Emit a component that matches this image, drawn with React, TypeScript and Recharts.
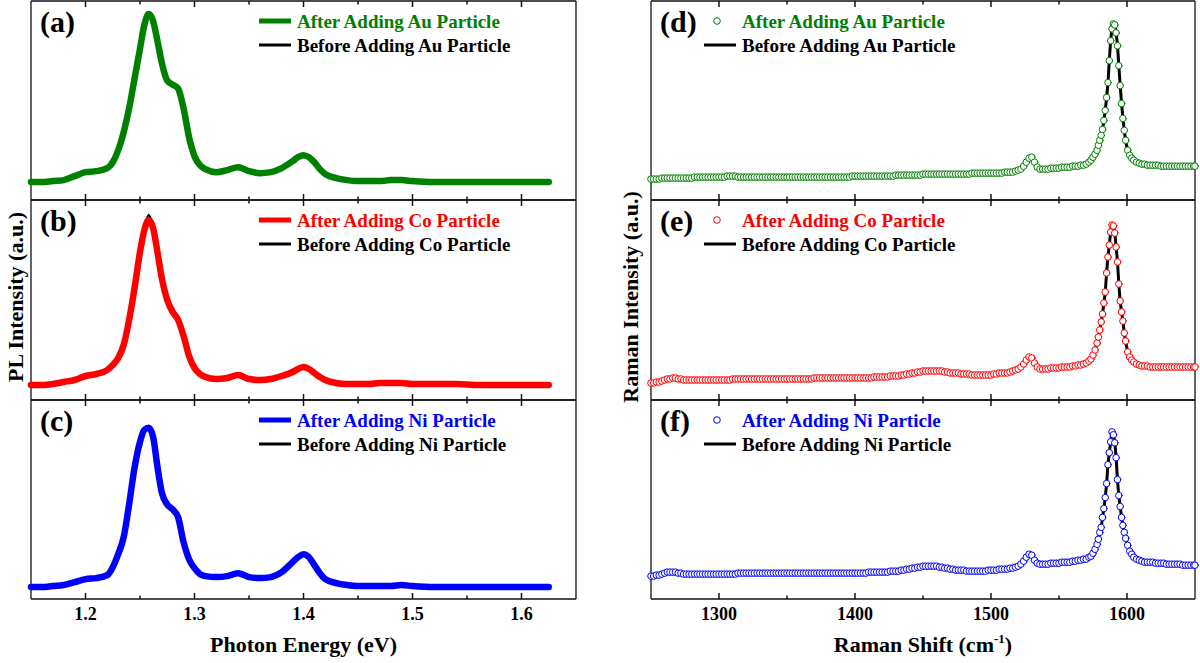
import React from 'react';
import { LineChart, Line, XAxis, YAxis, Legend, ReferenceLine } from 'recharts';

const FONT = '"Liberation Serif", "Times New Roman", Times, serif';
const GREEN = '#008000';
const RED = '#ff0000';
const BLUE = '#0000ff';

// ---- PL spectra, photon energy (eV) ----
const plEnergy = [
  1.15, 1.16, 1.17, 1.18, 1.19, 1.2, 1.21, 1.22, 1.225, 1.23,
  1.235, 1.24, 1.245, 1.25, 1.254, 1.258, 1.262, 1.266, 1.27, 1.275,
  1.28, 1.285, 1.29, 1.295, 1.3, 1.305, 1.31, 1.32, 1.33, 1.34,
  1.35, 1.36, 1.37, 1.38, 1.39, 1.395, 1.4, 1.405, 1.41, 1.415,
  1.42, 1.43, 1.44, 1.45, 1.46, 1.47, 1.48, 1.49, 1.5, 1.52,
  1.54, 1.56, 1.58, 1.6, 1.625,
];

const plAfterAu = [
  18, 18, 19, 20, 24, 28, 29, 32, 38, 50,
  68, 92, 122, 152, 176, 187, 180, 160, 138, 120,
  116, 112, 92, 63, 44, 35, 31, 28, 30, 33,
  29, 27, 28, 32, 39, 43, 45, 43, 38, 31,
  26, 22, 20, 19, 19, 19, 20, 20, 19, 18,
  18, 18, 18, 18, 18,
];
// black trace sits right under the green one
const plBeforeAu = plAfterAu;

const plAfterCo = [
  15, 15, 16, 18, 20, 24, 26, 30, 35, 42,
  55, 80, 112, 148, 170, 180, 172, 148, 122, 100,
  88, 80, 64, 44, 32, 26, 23, 21, 22, 25,
  21, 20, 21, 24, 28, 31, 33, 31, 27, 23,
  20, 17, 16, 16, 16, 17, 17, 17, 16, 16,
  16, 15, 15, 15, 15,
];
const plBeforeCo = [
  15, 15, 16, 18, 20, 24, 26, 30, 35, 42,
  55, 80, 112, 148, 170, 185, 172, 148, 122, 100,
  88, 80, 64, 44, 32, 26, 23, 21, 22, 25,
  21, 20, 21, 24, 28, 31, 33, 31, 27, 23,
  20, 17, 16, 16, 16, 17, 17, 17, 16, 16,
  16, 15, 15, 15, 15,
];

const plAfterNi = [
  12, 12, 13, 14, 17, 20, 21, 24, 32, 45,
  62, 95, 132, 158, 170, 172, 163, 133, 107, 95,
  90, 82, 57, 40, 31, 25, 23, 22, 23, 26,
  22, 21, 22, 27, 37, 42, 45, 42, 34, 26,
  20, 16, 14, 13, 13, 13, 13, 14, 13, 12,
  12, 12, 12, 12, 12,
];
const plBeforeNi = plAfterNi;

// ---- Raman spectra, shift (cm-1) ----
const ramanShift = [
  1250, 1252, 1254, 1256, 1258, 1260, 1262, 1264, 1266, 1268,
  1270, 1272, 1274, 1276, 1278, 1280, 1282, 1284, 1286, 1288,
  1290, 1292, 1294, 1296, 1298, 1300, 1302, 1304, 1306, 1308,
  1310, 1312, 1314, 1316, 1318, 1320, 1322, 1324, 1326, 1328,
  1330, 1332, 1334, 1336, 1338, 1340, 1342, 1344, 1346, 1348,
  1350, 1352, 1354, 1356, 1358, 1360, 1362, 1364, 1366, 1368,
  1370, 1372, 1374, 1376, 1378, 1380, 1382, 1384, 1386, 1388,
  1390, 1392, 1394, 1396, 1398, 1400, 1402, 1404, 1406, 1408,
  1410, 1412, 1414, 1416, 1418, 1420, 1422, 1424, 1426, 1428,
  1430, 1432, 1434, 1436, 1438, 1440, 1442, 1444, 1446, 1448,
  1450, 1452, 1454, 1456, 1458, 1460, 1462, 1464, 1466, 1468,
  1470, 1472, 1474, 1476, 1478, 1480, 1482, 1484, 1486, 1488,
  1490, 1492, 1494, 1496, 1498, 1500, 1502, 1504, 1506, 1508,
  1510, 1512, 1514, 1516, 1518,
  1520, 1522, 1524, 1526, 1528, 1530, 1532, 1534, 1536, 1538, 1540,
  1542, 1544, 1546, 1548, 1550, 1552, 1554, 1556, 1558, 1560, 1562, 1564, 1566, 1568, 1570,
  1572, 1573.5, 1575, 1576.5,
  1578, 1579, 1580, 1581, 1582, 1583, 1584, 1585, 1586, 1587, 1588,
  1589, 1590, 1591, 1592, 1593, 1594, 1595, 1596, 1597, 1598, 1599,
  1600.5, 1602, 1603.5, 1605, 1607, 1609, 1611,
  1613, 1615, 1617, 1619, 1621, 1623, 1625, 1627, 1629, 1631,
  1633, 1635, 1637, 1639, 1641, 1643, 1645, 1647, 1649, 1650,
];

const ramanAfterAu = [
  21, 21, 21, 21, 22, 22, 22, 22, 22, 22,
  22, 22, 22, 22, 22, 22, 23, 23, 23, 23,
  23, 23, 23, 23, 23, 23, 23, 23, 24, 24,
  24, 24, 23, 23, 23, 23, 23, 23, 23, 23,
  23, 23, 23, 23, 23, 23, 23, 23, 23, 23,
  23, 23, 23, 23, 23, 23, 23, 23, 23, 23,
  23, 23, 23, 23, 23, 23, 23, 23, 23, 23,
  23, 23, 23, 23, 24, 24, 24, 24, 24, 24,
  24, 24, 24, 24, 24, 24, 24, 24, 24, 24,
  25, 25, 25, 25, 25, 25, 25, 25, 25, 25,
  26, 26, 26, 26, 26, 26, 26, 26, 26, 26,
  26, 26, 26, 26, 26, 26, 26, 26, 27, 27,
  27, 27, 27, 27, 27, 27, 27, 27, 27, 27,
  28, 28, 28, 28, 29,
  30, 31, 34, 38, 42, 43, 38, 33, 31, 31, 31,
  31, 32, 32, 32, 32, 33, 33, 33, 33, 34, 34, 34, 35, 35, 36,
  38, 40, 43, 46,
  50, 55, 60, 65, 71, 80, 90, 103, 118, 140, 160,
  172, 177, 176, 168, 155, 135, 115, 97, 82, 70, 60,
  50, 45, 42, 40, 38, 37, 36,
  36, 35, 35, 35, 35, 35, 34, 34, 34, 34,
  34, 34, 34, 34, 34, 34, 34, 34, 34, 34,
];
const ramanBeforeAu = ramanAfterAu;

const ramanAfterCo = [
  17, 17, 18, 18, 19, 20, 21, 21, 22, 22,
  21, 21, 20, 20, 20, 20, 20, 20, 20, 20,
  20, 20, 20, 20, 20, 20, 20, 20, 20, 20,
  21, 21, 21, 21, 21, 21, 21, 21, 21, 21,
  21, 21, 21, 21, 21, 21, 21, 21, 21, 21,
  21, 21, 21, 21, 21, 21, 21, 21, 21, 21,
  22, 22, 22, 22, 22, 22, 22, 22, 22, 22,
  22, 22, 22, 22, 22, 22, 22, 22, 22, 22,
  22, 22, 23, 23, 23, 23, 23, 23, 24, 24,
  24, 24, 25, 25, 26, 26, 27, 27, 28, 28,
  29, 29, 29, 29, 29, 29, 29, 29, 28, 28,
  27, 27, 27, 27, 26, 26, 26, 26, 25, 25,
  25, 25, 25, 25, 25, 25, 26, 26, 27, 27,
  27, 27, 28, 29, 30,
  31, 33, 36, 40, 43, 42, 37, 33, 31, 31, 31,
  31, 32, 32, 32, 32, 33, 33, 33, 33, 34, 34, 35, 35, 36, 37,
  39, 41, 45, 50,
  57, 63, 70, 78, 86, 97, 108, 127, 143, 155, 168,
  175, 174, 167, 153, 138, 116, 99, 88, 79, 67, 59,
  48, 43, 40, 38, 36, 35, 34,
  34, 34, 33, 33, 33, 33, 33, 33, 33, 33,
  33, 33, 33, 33, 33, 33, 33, 33, 33, 33,
];
const ramanBeforeCo = ramanAfterCo;

const ramanAfterNi = [
  23, 23, 24, 24, 25, 26, 27, 27, 27, 27,
  26, 26, 25, 25, 25, 25, 25, 25, 25, 25,
  25, 25, 25, 25, 25, 25, 25, 25, 25, 25,
  25, 25, 26, 26, 26, 26, 26, 26, 26, 26,
  26, 26, 26, 26, 26, 26, 26, 26, 26, 26,
  26, 26, 26, 26, 26, 26, 26, 26, 26, 26,
  26, 26, 26, 26, 26, 26, 26, 26, 26, 26,
  26, 26, 26, 26, 26, 26, 26, 26, 26, 26,
  27, 27, 27, 27, 27, 27, 27, 27, 28, 28,
  28, 28, 29, 29, 30, 30, 31, 31, 32, 32,
  33, 33, 33, 33, 33, 33, 32, 32, 31, 31,
  30, 30, 29, 29, 29, 29, 28, 28, 28, 28,
  28, 28, 28, 28, 29, 29, 29, 29, 30, 30,
  30, 30, 31, 31, 32,
  33, 35, 38, 42, 45, 44, 39, 36, 35, 35, 35,
  35, 36, 36, 36, 36, 37, 37, 37, 37, 38, 38, 39, 39, 40, 40,
  42, 43, 46, 50,
  55, 60, 67, 72, 82, 91, 102, 116, 135, 147, 158,
  168, 165, 157, 142, 120, 104, 93, 82, 74, 67, 61,
  54, 48, 45, 42, 40, 39, 38,
  37, 37, 37, 37, 36, 36, 36, 36, 35, 35,
  35, 35, 35, 35, 34, 34, 34, 34, 34, 34,
];
const ramanBeforeNi = ramanAfterNi;

// tick labels
const plMajorTicks = [1.2, 1.3, 1.4, 1.5, 1.6];
const plMinorTicks = [1.25, 1.35, 1.45, 1.55];
const ramanMajorTicks = [1300, 1400, 1500, 1600];
const ramanMinorTicks = [1350, 1450, 1550];

const Y_MAX = 200;

type Row = { x: number; after: number; before: number };

const toRows = (xs: number[], after: number[], before: number[]): Row[] =>
  xs.map((x, i) => ({ x, after: after[i], before: before[i] }));

const TickLabel = (props: any) => {
  const { x, y, payload, digits } = props;
  return (
    <text x={x} y={y + 21} textAnchor="middle" fontFamily={FONT} fontWeight="bold" fontSize={18} fill="#000">
      {payload.value.toFixed(digits)}
    </text>
  );
};

// horizontal frame edge (drawn by a ReferenceLine) with its inward tick marks
const FrameEdge = (props: any) => {
  const { x1, y1, x2, y2, domain, majors, minors, dir } = props;
  const span = x2 - x1;
  const at = (v: number) => x1 + ((v - domain[0]) / (domain[1] - domain[0])) * span;
  return (
    <g>
      <line x1={x1} y1={y1} x2={x2} y2={y2} stroke="#111" strokeWidth={1.3} />
      {majors.map((v: number) => (
        <line key={`M${v}`} x1={at(v)} x2={at(v)} y1={y1} y2={y1 + dir * 6} stroke="#111" strokeWidth={1.5} />
      ))}
      {minors.map((v: number) => (
        <line key={`m${v}`} x1={at(v)} x2={at(v)} y1={y1} y2={y1 + dir * 3.5} stroke="#111" strokeWidth={1.5} />
      ))}
    </g>
  );
};

const PanelTag = (props: any) => {
  const { viewBox, tag } = props;
  return (
    <text
      x={viewBox.x + 9}
      y={viewBox.y + viewBox.height + 31}
      fontFamily={FONT}
      fontWeight="bold"
      fontSize={30}
      fill="#000"
    >
      {tag}
    </text>
  );
};

const XTitle = (props: any) => {
  const { viewBox, children } = props;
  return (
    <text
      x={viewBox.x + viewBox.width / 2}
      y={viewBox.y + 53}
      textAnchor="middle"
      fontFamily={FONT}
      fontWeight="bold"
      fontSize={22}
      fill="#000"
    >
      {children}
    </text>
  );
};

const YTitle = (props: any) => {
  const { viewBox, text, gap } = props;
  const cx = viewBox.x + viewBox.width - gap;
  const cy = viewBox.y + viewBox.height / 2 - 3;
  return (
    <text
      x={cx}
      y={cy}
      transform={`rotate(-90 ${cx} ${cy})`}
      textAnchor="middle"
      dominantBaseline="central"
      fontFamily={FONT}
      fontWeight="bold"
      fontSize={22}
      fill="#000"
    >
      {text}
    </text>
  );
};

const PanelLegend = (props: any) => {
  const { payload = [], markers } = props;
  const items = [...payload].sort((a: any, b: any) => (a.value < b.value ? -1 : 1));
  return (
    <svg width={330} height={64} style={{ display: 'block', overflow: 'visible' }}>
      {items.map((item: any, i: number) => {
        const cy = 20 + i * 24;
        const isAfter = item.dataKey === 'after';
        return (
          <g key={item.value}>
            {isAfter && markers ? (
              <circle cx={13} cy={cy} r={3.3} fill="#fff" stroke={item.color} strokeWidth={1} />
            ) : (
              <line x1={0} x2={32} y1={cy} y2={cy} stroke={item.color} strokeWidth={isAfter ? 5 : 3} />
            )}
            <text x={38} y={cy + 6.5} fontFamily={FONT} fontWeight="bold" fontSize={19} fill={item.color}>
              {item.value}
            </text>
          </g>
        );
      })}
    </svg>
  );
};

type PanelProps = {
  left: number;
  top: number;
  width: number;
  plotLeft: number;
  plotRight: number;
  plotHeight: number;
  domain: [number, number];
  majors: number[];
  minors: number[];
  digits: number;
  rows: Row[];
  color: string;
  tag: string;
  metal: string;
  markers: boolean;
  legendX: number;
  xTitle?: React.ReactNode;
  yTitle?: string;
  yTitleGap?: number;
};

const PAD = 4;
const X_AXIS_H = 64;
const FRAME = { stroke: '#111', strokeWidth: 1.3 };

const Panel = (p: PanelProps) => {
  const axisH = p.xTitle ? X_AXIS_H : 1;
  const height = PAD + p.plotHeight + (p.xTitle ? X_AXIS_H : PAD);
  return (
    <div style={{ position: 'absolute', left: p.left, top: p.top - PAD, width: p.width, height }}>
      <LineChart
        width={p.width}
        height={height}
        data={p.rows}
        margin={{ top: PAD - 1, right: p.width - p.plotRight, bottom: p.xTitle ? 0 : PAD - 1, left: p.plotLeft - 1 }}
      >
        <XAxis
          xAxisId="top"
          orientation="top"
          type="number"
          dataKey="x"
          domain={p.domain}
          height={1}
          tick={false}
          tickLine={false}
          axisLine={false}
          label={<PanelTag tag={p.tag} />}
        />
        <XAxis
          xAxisId="bottom"
          orientation="bottom"
          type="number"
          dataKey="x"
          domain={p.domain}
          ticks={p.majors}
          interval={0}
          height={axisH}
          tickSize={0}
          tickMargin={0}
          tickLine={false}
          axisLine={false}
          tick={p.xTitle ? <TickLabel digits={p.digits} /> : false}
          label={p.xTitle ? <XTitle>{p.xTitle}</XTitle> : undefined}
        />
        <YAxis
          type="number"
          domain={[0, Y_MAX]}
          width={1}
          tick={false}
          tickLine={false}
          axisLine={false}
          label={p.yTitle ? <YTitle text={p.yTitle} gap={p.yTitleGap} /> : undefined}
        />
        <ReferenceLine xAxisId="bottom" x={p.domain[0]} {...FRAME} />
        <ReferenceLine xAxisId="bottom" x={p.domain[1]} {...FRAME} />
        <ReferenceLine
          xAxisId="bottom"
          y={0}
          {...FRAME}
          shape={(sp: any) => (
            <FrameEdge {...sp} domain={p.domain} majors={p.majors} minors={p.minors} dir={-1} />
          )}
        />
        <ReferenceLine
          xAxisId="bottom"
          y={Y_MAX}
          {...FRAME}
          shape={(sp: any) => (
            <FrameEdge {...sp} domain={p.domain} majors={p.majors} minors={p.minors} dir={1} />
          )}
        />
        <Line
          xAxisId="bottom"
          type="monotone"
          dataKey="before"
          name={`Before Adding ${p.metal} Particle`}
          stroke="#000"
          strokeWidth={p.markers ? 3 : 2.5}
          dot={false}
          isAnimationActive={false}
        />
        <Line
          xAxisId="bottom"
          type="monotone"
          dataKey="after"
          name={`After Adding ${p.metal} Particle`}
          stroke={p.color}
          strokeWidth={p.markers ? 0 : 6.5}
          strokeLinecap="round"
          strokeLinejoin="round"
          dot={p.markers ? { r: 3.3, stroke: p.color, strokeWidth: 1, fill: '#fff' } : false}
          isAnimationActive={false}
        />
        <Legend
          layout="horizontal"
          verticalAlign="middle"
          align="center"
          wrapperStyle={{ left: p.legendX, top: PAD, width: 330, height: 64, bottom: 'auto' }}
          content={<PanelLegend markers={p.markers} />}
        />
      </LineChart>
    </div>
  );
};

const PANEL_TOPS = [1, 200, 400];
const PANEL_HEIGHTS = [199, 200, 199];

const plPanels = [
  { tag: '(a)', metal: 'Au', color: GREEN, rows: toRows(plEnergy, plAfterAu, plBeforeAu) },
  { tag: '(b)', metal: 'Co', color: RED, rows: toRows(plEnergy, plAfterCo, plBeforeCo) },
  { tag: '(c)', metal: 'Ni', color: BLUE, rows: toRows(plEnergy, plAfterNi, plBeforeNi) },
];

const ramanPanels = [
  { tag: '(d)', metal: 'Au', color: GREEN, rows: toRows(ramanShift, ramanAfterAu, ramanBeforeAu) },
  { tag: '(e)', metal: 'Co', color: RED, rows: toRows(ramanShift, ramanAfterCo, ramanBeforeCo) },
  { tag: '(f)', metal: 'Ni', color: BLUE, rows: toRows(ramanShift, ramanAfterNi, ramanBeforeNi) },
];

export default function App() {
  return (
    <div
      style={{
        position: 'absolute',
        left: 0,
        top: 0,
        width: 1200,
        height: 663,
        background: '#fff',
        overflow: 'hidden',
      }}
    >
      <style>{'.recharts-surface { overflow: visible; }'}</style>
      {plPanels.map((cfg, i) => (
        <Panel
          key={cfg.tag}
          left={0}
          top={PANEL_TOPS[i]}
          width={600}
          plotLeft={31}
          plotRight={576}
          plotHeight={PANEL_HEIGHTS[i]}
          domain={[1.15, 1.65]}
          majors={plMajorTicks}
          minors={plMinorTicks}
          digits={1}
          rows={cfg.rows}
          color={cfg.color}
          tag={cfg.tag}
          metal={cfg.metal}
          markers={false}
          legendX={259}
          xTitle={i === 2 ? 'Photon Energy (eV)' : undefined}
          yTitle={i === 1 ? 'PL Intensity (a.u.)' : undefined}
          yTitleGap={16}
        />
      ))}
      {ramanPanels.map((cfg, i) => (
        <Panel
          key={cfg.tag}
          left={600}
          top={PANEL_TOPS[i]}
          width={600}
          plotLeft={51}
          plotRight={595}
          plotHeight={PANEL_HEIGHTS[i]}
          domain={[1250, 1650]}
          majors={ramanMajorTicks}
          minors={ramanMinorTicks}
          digits={0}
          rows={cfg.rows}
          color={cfg.color}
          tag={cfg.tag}
          metal={cfg.metal}
          markers={true}
          legendX={104}
          xTitle={
            i === 2 ? (
              <>
                <tspan>Raman Shift (cm</tspan>
                <tspan dy={-9} fontSize={13}>-1</tspan>
                <tspan dy={9}>)</tspan>
              </>
            ) : undefined
          }
          yTitle={i === 1 ? 'Raman Intensity (a.u.)' : undefined}
          yTitleGap={21}
        />
      ))}
    </div>
  );
}
